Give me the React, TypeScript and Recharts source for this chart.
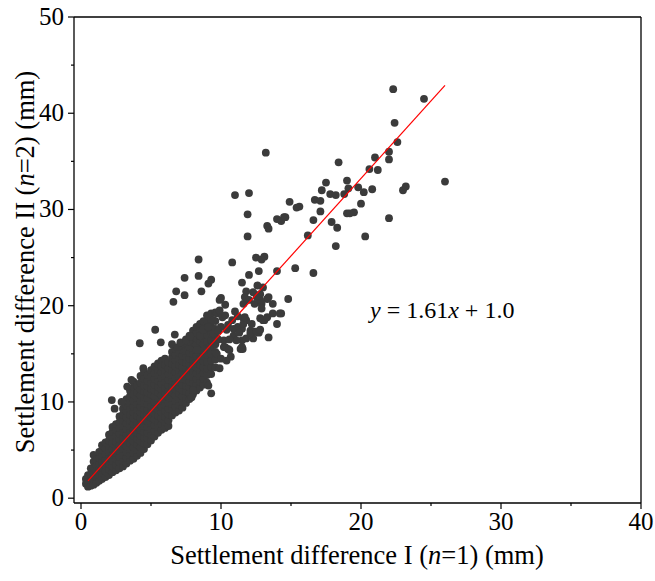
import React from 'react';
import { ScatterChart, Scatter, XAxis, YAxis, ReferenceLine } from 'recharts';

// axis ticks (labels only on multiples of 10)
const xTicks = [0, 5, 10, 15, 20, 25, 30, 35, 40];
const yTicks = [0, 5, 10, 15, 20, 25, 30, 35, 40, 45, 50];

// fitted line y = 1.61x + 1.0, drawn between these two points
const fitLine = [
  { x: 0.5, y: 1.8 },
  { x: 26.0, y: 42.9 },
];

// dense part of the cloud, read column by column: [x, y values]
const denseRows: [number, number[]][] = [
  [0.35, [1.5, 2.0]],
  [0.5, [1.2, 1.8, 2.4]],
  [0.7, [1.3, 1.9, 2.5, 3.1]],
  [0.9, [1.4, 2.0, 2.6, 3.2, 3.8, 4.5]],
  [1.1, [1.6, 2.2, 2.8, 3.4, 4.0]],
  [1.3, [1.8, 2.4, 3.0, 3.6, 4.2, 4.8]],
  [1.5, [2.0, 2.6, 3.2, 3.8, 4.4, 5.0, 5.5]],
  [1.75, [2.2, 2.8, 3.4, 4.0, 4.6, 5.2, 5.8]],
  [2.0, [2.4, 3.0, 3.6, 4.2, 4.8, 5.4, 6.0, 6.6]],
  [2.25, [2.7, 3.3, 3.9, 4.5, 5.1, 5.7, 6.3, 6.9, 7.4]],
  [2.5, [2.9, 3.5, 4.1, 4.7, 5.3, 5.9, 6.5, 7.1, 7.7]],
  [2.75, [3.1, 3.7, 4.3, 4.9, 5.5, 6.1, 6.7, 7.3, 7.9, 8.5]],
  [3.0, [3.3, 3.9, 4.5, 5.1, 5.7, 6.3, 6.9, 7.5, 8.1, 8.7, 9.3]],
  [3.25, [3.6, 4.2, 4.8, 5.4, 6.0, 6.6, 7.2, 7.8, 8.4, 9.0, 9.6, 10.3]],
  [3.5, [3.9, 4.5, 5.1, 5.7, 6.3, 6.9, 7.5, 8.1, 8.7, 9.3, 9.9, 10.6, 11.2]],
  [3.75, [4.1, 4.7, 5.3, 5.9, 6.5, 7.1, 7.7, 8.3, 8.9, 9.5, 10.1, 10.8, 11.5, 12.1]],
  [4.0, [4.4, 5.0, 5.6, 6.2, 6.8, 7.4, 8.0, 8.6, 9.2, 9.8, 10.4, 11.0, 11.7]],
  [4.25, [4.7, 5.3, 5.9, 6.5, 7.1, 7.7, 8.3, 8.9, 9.5, 10.1, 10.7, 11.3, 12.0, 12.7]],
  [4.5, [5.1, 5.7, 6.3, 6.9, 7.5, 8.1, 8.7, 9.3, 9.9, 10.5, 11.1, 11.7, 12.4, 13.1]],
  [4.75, [5.6, 6.2, 6.8, 7.4, 8.0, 8.6, 9.2, 9.8, 10.4, 11.0, 11.6, 12.2, 12.8]],
  [5.0, [6.0, 6.6, 7.2, 7.8, 8.4, 9.0, 9.6, 10.2, 10.8, 11.4, 12.0, 12.6, 13.3]],
  [5.25, [6.4, 7.0, 7.6, 8.2, 8.8, 9.4, 10.0, 10.6, 11.2, 11.8, 12.4, 13.0, 13.7]],
  [5.5, [6.8, 7.4, 8.0, 8.6, 9.2, 9.8, 10.4, 11.0, 11.6, 12.2, 12.8, 13.4, 14.0]],
  [5.75, [7.1, 7.7, 8.3, 8.9, 9.5, 10.1, 10.7, 11.3, 11.9, 12.5, 13.1, 13.7, 14.3]],
  [6.0, [7.3, 7.9, 8.5, 9.1, 9.7, 10.3, 10.9, 11.5, 12.1, 12.7, 13.3, 13.9, 14.5]],
  [6.25, [7.5, 8.1, 8.7, 9.3, 9.9, 10.5, 11.1, 11.7, 12.3, 12.9, 13.5, 14.1]],
  [6.5, [8.6, 9.2, 9.8, 10.4, 11.0, 11.6, 12.2, 12.8, 13.4, 14.0, 14.6, 15.2]],
  [6.75, [8.9, 9.5, 10.1, 10.7, 11.3, 11.9, 12.5, 13.1, 13.7, 14.3, 14.9, 15.5]],
  [7.0, [9.1, 9.7, 10.3, 10.9, 11.5, 12.1, 12.7, 13.3, 13.9, 14.5, 15.1, 15.7]],
  [7.25, [9.4, 10.0, 10.6, 11.2, 11.8, 12.4, 13.0, 13.6, 14.2, 14.8, 15.4, 16.0]],
  [7.5, [9.9, 10.5, 11.1, 11.7, 12.3, 12.9, 13.5, 14.1, 14.7, 15.3, 15.9, 16.5]],
  [7.75, [10.3, 10.9, 11.5, 12.1, 12.7, 13.3, 13.9, 14.5, 15.1, 15.7, 16.3, 16.9]],
  [8.0, [10.8, 11.4, 12.0, 12.6, 13.2, 13.8, 14.4, 15.0, 15.6, 16.2, 16.8, 17.4]],
  [8.25, [11.2, 11.8, 12.4, 13.0, 13.6, 14.2, 14.8, 15.4, 16.0, 16.6, 17.2, 17.8]],
  [8.5, [11.5, 12.1, 12.7, 13.3, 13.9, 14.5, 15.1, 15.7, 16.3, 16.9, 17.5, 18.1]],
  [8.75, [11.8, 12.4, 13.0, 13.6, 14.2, 14.8, 15.4, 16.0, 16.6, 17.2, 17.8, 18.4]],
  [9.0, [12.0, 12.8, 13.5, 14.2, 14.9, 15.6, 16.3, 17.0, 17.7, 18.4, 19.0]],
  [9.3, [12.9, 13.6, 14.3, 15.0, 15.7, 16.4, 17.1, 17.8, 18.5, 19.2]],
  [9.6, [13.6, 14.4, 15.2, 16.0, 16.8, 17.6, 18.4, 19.3]],
];

// single points outside the dense band: [x, y]
const loosePoints: [number, number][] = [
  [22.3, 42.5], [24.5, 41.5], [22.4, 39.0], [22.6, 37.0], [18.4, 34.9], [21.0, 35.4],
  [22.0, 36.0], [22.0, 35.2], [20.6, 34.2], [21.2, 34.1], [17.5, 32.8], [19.0, 33.0],
  [19.8, 32.3], [19.1, 32.2], [18.8, 31.6], [20.2, 31.8], [20.8, 32.1], [17.2, 32.0],
  [17.8, 31.6], [18.2, 31.5], [16.7, 31.0], [17.1, 30.9], [15.6, 30.3], [20.0, 30.6],
  [17.1, 29.8], [19.0, 29.6], [19.2, 29.6], [19.5, 29.7], [16.6, 28.9], [17.9, 28.7],
  [18.3, 28.1], [22.0, 29.1], [23.0, 32.0], [23.2, 32.4], [26.0, 32.9], [16.2, 27.3],
  [20.3, 27.2], [18.2, 26.2], [16.6, 23.4],
  [13.2, 35.9], [11.0, 31.5], [12.0, 31.7], [11.9, 29.5], [11.9, 27.2], [13.3, 28.3],
  [13.4, 28.0], [14.0, 29.0], [14.3, 28.8], [14.5, 29.2], [14.6, 29.2], [14.9, 30.8],
  [15.4, 30.2], [15.3, 23.9], [14.0, 23.6], [10.8, 24.5], [8.4, 24.8], [8.4, 23.1],
  [7.4, 22.9], [6.8, 21.5], [8.6, 21.5], [9.1, 22.3], [9.3, 22.7], [11.5, 22.4],
  [12.0, 23.2], [12.5, 25.0], [13.1, 25.1], [12.9, 24.8], [12.7, 23.6], [12.6, 22.1],
  [11.8, 21.5], [11.7, 20.9], [10.0, 20.8], [14.8, 20.7], [12.8, 21.2], [7.4, 21.1],
  [6.6, 20.4],
  [5.3, 17.5], [5.7, 16.2], [6.7, 17.0], [6.5, 16.0], [6.9, 15.7], [7.3, 16.1],
  [7.7, 16.3], [10.3, 20.1], [4.2, 16.1], [4.45, 13.5], [2.2, 10.2], [2.4, 9.3],
  [2.9, 10.0], [3.3, 11.6], [3.6, 12.3], [7.1, 16.2], [7.5, 16.4], [7.8, 16.8],
  [12.3, 21.4], [12.0, 20.6], [11.6, 20.2], [13.3, 20.7], [12.4, 20.2], [12.9, 20.2],
  [12.9, 19.7], [13.7, 19.2], [14.3, 19.2], [11.6, 18.7], [11.8, 18.5], [12.8, 18.7],
  [13.1, 18.5], [11.2, 17.8], [11.5, 17.6], [12.1, 17.4], [12.4, 17.3], [12.7, 17.2],
  [12.3, 16.6], [13.4, 16.7], [11.5, 16.4], [11.55, 15.5], [11.4, 15.5], [10.7, 14.7],
  [9.9, 13.5], [9.1, 11.7], [9.3, 10.9], [8.0, 11.2], [7.9, 10.5], [10.2, 15.7],
  [10.5, 15.5], [13.7, 20.2], [13.4, 20.9], [13.0, 21.9], [12.8, 20.6], [12.55, 20.9],
  [8.5, 16.9], [8.7, 17.5], [9.1, 17.8], [9.45, 18.5], [9.7, 19.2], [9.9, 19.5],
  [9.45, 17.1], [9.2, 15.7], [9.7, 15.0], [10.2, 16.4], [10.4, 17.5], [10.3, 15.7],
  [10.8, 18.5], [10.6, 15.4], [10.9, 16.9], [11.1, 16.4], [11.5, 15.7], [11.6, 18.1],
  [11.7, 18.8], [11.8, 16.6], [12.1, 17.1], [12.2, 18.1], [12.55, 17.3], [12.8, 17.5],
  [13.0, 18.5], [13.3, 18.8], [14.2, 19.2], [14.0, 18.1], [9.9, 20.6], [8.3, 15.4],
  [9.8, 16.5], [10.0, 17.8], [10.1, 18.8], [10.5, 18.0], [10.6, 16.5], [10.9, 17.6],
  [11.2, 18.9], [10.0, 14.5], [10.4, 14.3], [9.8, 17.4], [10.3, 19.0], [11.0, 19.4],
  [11.3, 17.2],
];

const points = [
  ...denseRows.flatMap(([x, ys]) => ys.map((y) => ({ x, y }))),
  ...loosePoints.map(([x, y]) => ({ x, y })),
];

const FONT = '"Liberation Serif", "Times New Roman", serif';
const DOT = '#3b3b3b';

const XTick = (props: any) => {
  const { x, y, payload } = props;
  const major = payload.value % 10 === 0;
  return (
    <g>
      <line x1={x} y1={y} x2={x} y2={y + (major ? 6 : 3)} stroke="#000" strokeWidth={1.2} />
      {major && (
        <text x={x} y={y + 27} textAnchor="middle" fontSize={25} fontFamily={FONT} fill="#000">
          {payload.value}
        </text>
      )}
    </g>
  );
};

const YTick = (props: any) => {
  const { x, y, payload } = props;
  const major = payload.value % 10 === 0;
  return (
    <g>
      <line x1={x} y1={y} x2={x - (major ? 6 : 3)} y2={y} stroke="#000" strokeWidth={1.2} />
      {major && (
        <text x={x - 10} y={y + 8} textAnchor="end" fontSize={25} fontFamily={FONT} fill="#000">
          {payload.value}
        </text>
      )}
    </g>
  );
};

const Dot = (props: any) => <circle cx={props.cx} cy={props.cy} r={3.9} fill={DOT} />;
const NoDot = () => null;

export default function App() {
  return (
    <div style={{ position: 'absolute', left: 0, top: 0, width: 655, height: 581, background: '#fff' }}>
      <ScatterChart width={655} height={581} margin={{ top: 17, right: 14, bottom: 0, left: 0 }}>
        <XAxis
          type="number"
          dataKey="x"
          domain={[-0.5, 40]}
          ticks={xTicks}
          interval={0}
          height={78}
          tickSize={0}
          tickMargin={0}
          tick={<XTick />}
          axisLine={{ stroke: '#000', strokeWidth: 1.3 }}
          allowDataOverflow
        />
        <YAxis
          type="number"
          dataKey="y"
          domain={[-0.5, 50]}
          ticks={yTicks}
          interval={0}
          width={74}
          tickSize={0}
          tickMargin={0}
          tick={<YTick />}
          axisLine={{ stroke: '#000', strokeWidth: 1.3 }}
          allowDataOverflow
        />
        <ReferenceLine x={40} stroke="#000" strokeWidth={1.3} />
        <ReferenceLine y={50} stroke="#000" strokeWidth={1.3} />
        <Scatter data={points} shape={<Dot />} isAnimationActive={false} />
        <Scatter
          data={fitLine}
          line={{ stroke: '#ff0000', strokeWidth: 1.2 }}
          shape={<NoDot />}
          isAnimationActive={false}
        />
        <text x={370} y={318} fontSize={24} fontFamily={FONT} fill="#000">
          <tspan fontStyle="italic">y</tspan> = 1.61<tspan fontStyle="italic">x</tspan> + 1.0
        </text>
        <text x={357} y={564} textAnchor="middle" fontSize={26.5} fontFamily={FONT} fill="#000">
          Settlement difference I (<tspan fontStyle="italic">n</tspan>=1) (mm)
        </text>
        <text
          x={0}
          y={0}
          transform="translate(34, 262) rotate(-90)"
          textAnchor="middle"
          fontSize={26.5}
          fontFamily={FONT}
          fill="#000"
        >
          Settlement difference II (<tspan fontStyle="italic">n</tspan>=2) (mm)
        </text>
      </ScatterChart>
    </div>
  );
}
